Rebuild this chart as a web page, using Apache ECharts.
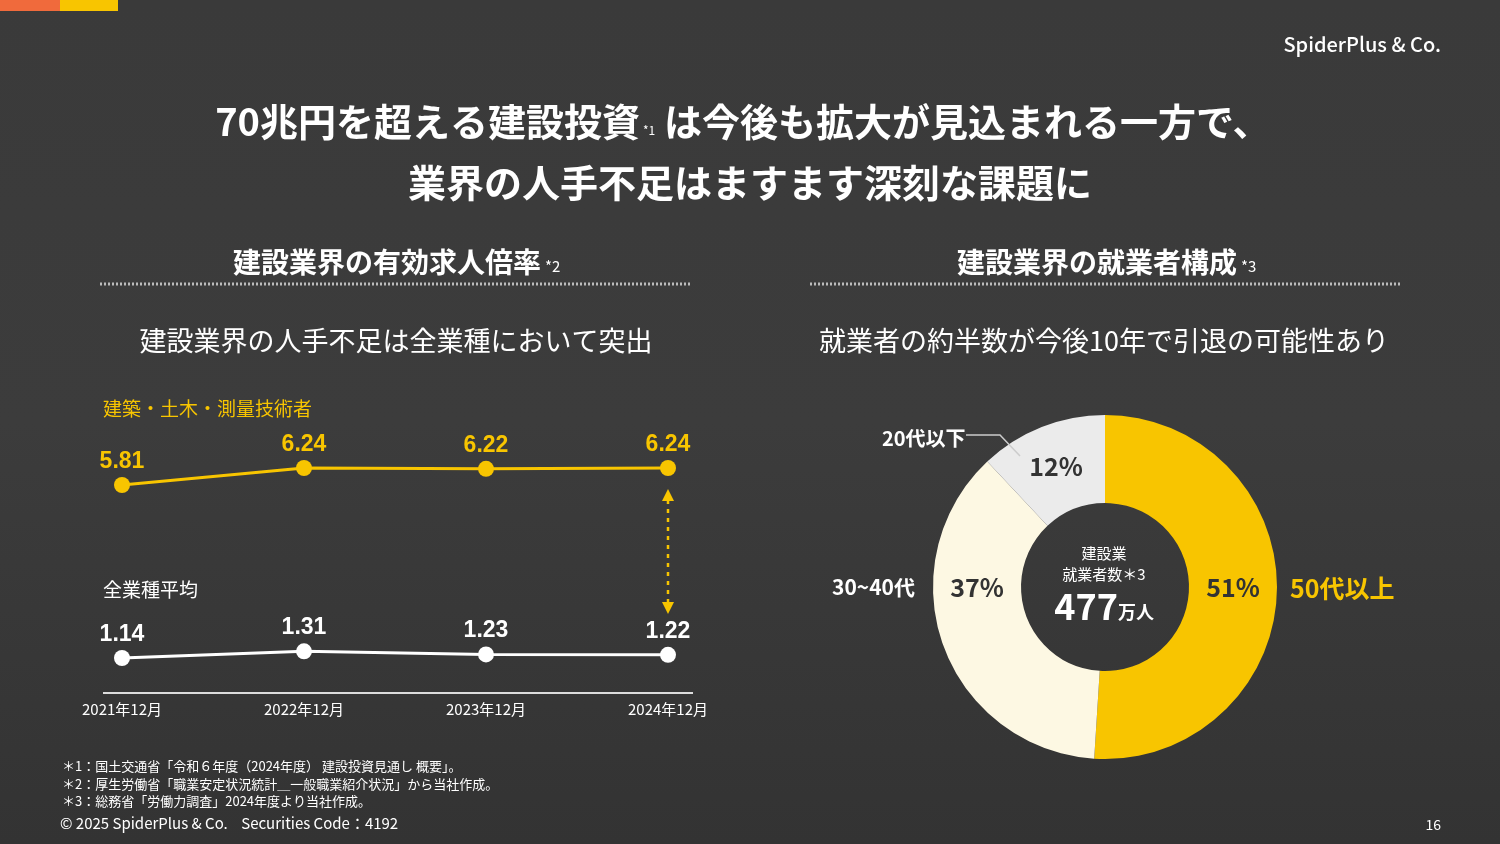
<!DOCTYPE html>
<html><head><meta charset="utf-8">
<script src="https://cdn.jsdelivr.net/npm/echarts@6/dist/echarts.min.js"></script>
<style>html,body{margin:0;padding:0;background:#3b3b3b}#c{width:1500px;height:844px}</style>
</head><body><div id="c"></div>
<script>
// データ
const years = ["2021年12月", "2022年12月", "2023年12月", "2024年12月"];
const kenchiku = [5.81, 6.24, 6.22, 6.24];
const zengyoshu = [1.14, 1.31, 1.23, 1.22];
const ageNames = ["50代以上", "30~40代", "20代以下"];
const ageShare = [51, 37, 12];

const F = "'Noto Sans CJK JP', 'Noto Sans', sans-serif";
const YEL = "#f8c500";

let chart = echarts.init(document.getElementById("c"));

function txt(x, y, s, size, color, weight, align) {
  return { type: "text", x: x, y: y, z: 100, style: { text: s, fill: color || "#fff", font: (weight || "normal") + " " + size + "px " + F, textAlign: align || "left", textVerticalAlign: "middle" } };
}

const valLabel = (color) => ({ show: true, position: "top", distance: 4, color: color, fontSize: 23, fontWeight: "bold", fontFamily: "Arial, sans-serif", formatter: p => p.value.toFixed(2) });

let option = {
  backgroundColor: {
    type: "linear", x: 0, y: 0, x2: 0, y2: 1,
    colorStops: [{ offset: 0, color: "#3a3a3a" }, { offset: 0.5, color: "#3c3c3c" }, { offset: 1, color: "#333" }]
  },
  grid: [
    { left: 122, width: 546, top: 440, height: 60 },
    { left: 122, width: 546, top: 630, height: 40 }
  ],
  xAxis: [
    { gridIndex: 0, type: "category", data: years, boundaryGap: false, show: false },
    { gridIndex: 1, type: "category", data: years, boundaryGap: false,
      axisLine: { show: false }, axisTick: { show: false },
      axisLabel: { color: "#fff", fontSize: 15, fontFamily: F, margin: 32 } }
  ],
  yAxis: [
    { gridIndex: 0, type: "value", min: 5.43, max: 6.95, show: false },
    { gridIndex: 1, type: "value", min: 0.836, max: 1.85, show: false }
  ],
  series: [
    { type: "line", xAxisIndex: 0, yAxisIndex: 0, data: kenchiku, symbol: "circle", symbolSize: 16,
      lineStyle: { color: YEL, width: 3 }, itemStyle: { color: YEL }, label: valLabel(YEL) },
    { type: "line", xAxisIndex: 1, yAxisIndex: 1, data: zengyoshu, symbol: "circle", symbolSize: 16,
      lineStyle: { color: "#fff", width: 3 }, itemStyle: { color: "#fff" }, label: valLabel("#fff") },
    { type: "pie", center: [1105, 587], radius: [84, 172], startAngle: 90, clockwise: true,
      label: { show: false }, labelLine: { show: false }, silent: true,
      data: ageShare.map((v, i) => ({ value: v, name: ageNames[i], itemStyle: { color: [YEL, "#fdf8e3", "#ebebeb"][i] } })) }
  ],
  graphic: [
    { type: "rect", shape: { x: 0, y: 0, width: 60, height: 11 }, style: { fill: "#f06a3c" } },
    { type: "rect", shape: { x: 60, y: 0, width: 58, height: 11 }, style: { fill: YEL } },
    txt(1441, 44, "SpiderPlus & Co.", 20, "#fff", "500", "right"),
    txt(640, 122, "70兆円を超える建設投資", 38, "#fff", "bold", "right"),
    txt(643, 130, "*1", 12, "#fff"),
    txt(664, 122, "は今後も拡大が見込まれる一方で、", 38, "#fff", "bold"),
    txt(750, 183, "業界の人手不足はますます深刻な課題に", 38, "#fff", "bold", "center"),
    txt(541, 262, "建設業界の有効求人倍率", 28, "#fff", "bold", "right"),
    txt(545, 266, "*2", 15, "#fff"),
    txt(1237, 262, "建設業界の就業者構成", 28, "#fff", "bold", "right"),
    txt(1241, 266, "*3", 15, "#fff"),
    { type: "line", shape: { x1: 100, y1: 284, x2: 691, y2: 284 }, style: { stroke: "#bbb", lineWidth: 3, lineDash: [2, 2] } },
    { type: "line", shape: { x1: 810, y1: 284, x2: 1400, y2: 284 }, style: { stroke: "#bbb", lineWidth: 3, lineDash: [2, 2] } },
    txt(396, 341, "建設業界の人手不足は全業種において突出", 27, "#fff", "normal", "center"),
    txt(1104, 341, "就業者の約半数が今後10年で引退の可能性あり", 27, "#fff", "normal", "center"),
    txt(103, 409, "建築・土木・測量技術者", 19, YEL),
    txt(103, 590, "全業種平均", 19, "#fff"),
    { type: "line", shape: { x1: 103, y1: 693, x2: 693, y2: 693 }, style: { stroke: "#ddd", lineWidth: 2 } },
    { type: "line", shape: { x1: 668, y1: 500, x2: 668, y2: 603 }, style: { stroke: YEL, lineWidth: 2.5, lineDash: [4, 5] } },
    { type: "polygon", shape: { points: [[668, 489], [662, 501], [674, 501]] }, style: { fill: YEL } },
    { type: "polygon", shape: { points: [[668, 614], [662, 602], [674, 602]] }, style: { fill: YEL } },
    // ドーナツ内ラベル
    txt(1056, 466, "12%", 25, "#333", "bold", "center"),
    txt(977, 587, "37%", 25, "#333", "bold", "center"),
    txt(1233, 587, "51%", 25, "#333", "bold", "center"),
    txt(1104, 553, "建設業", 15, "#fff", "normal", "center"),
    txt(1104, 574, "就業者数＊3", 15, "#fff", "normal", "center"),
    txt(1118, 606, "477", 36, "#fff", "bold", "right"),
    txt(1118, 612, "万人", 18, "#fff", "bold"),
    txt(1290, 588, "50代以上", 25, YEL, "bold"),
    txt(915, 587, "30~40代", 21, "#fff", "bold", "right"),
    txt(882, 438, "20代以下", 20, "#fff", "bold"),
    { type: "polyline", z: 100, shape: { points: [[966, 435], [1000, 435], [1020, 456]] }, style: { stroke: "#ccc", lineWidth: 1.5, fill: null } },
    // 注記
    txt(62, 766, "＊1：国土交通省「令和６年度（2024年度） 建設投資見通し 概要」。", 13, "#fff"),
    txt(62, 784, "＊2：厚生労働省「職業安定状況統計＿一般職業紹介状況」から当社作成。", 13, "#fff"),
    txt(62, 801, "＊3：総務省「労働力調査」2024年度より当社作成。", 13, "#fff"),
    txt(60, 823, "© 2025 SpiderPlus & Co.    Securities Code：4192", 15, "#fff"),
    txt(1441, 825, "16", 14, "#fff", "normal", "right")
  ]
};
chart.setOption(option);
window.onresize = function () { chart.resize(); };
</script></body></html>
